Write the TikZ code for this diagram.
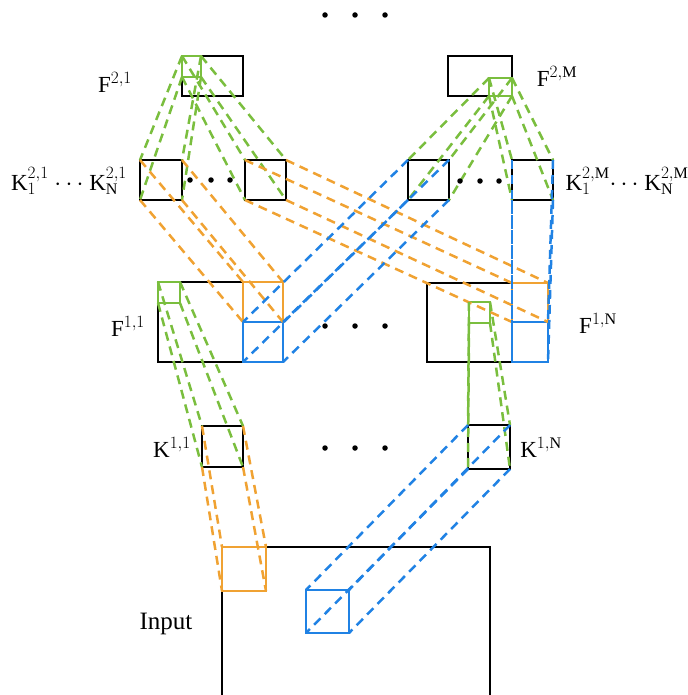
\documentclass[tikz,border=0pt]{standalone}
\usepackage{fontspec}
\setmainfont{Liberation Serif}
\definecolor{cgreen}{RGB}{122,190,62}
\definecolor{corange}{RGB}{240,162,50}
\definecolor{cblue}{RGB}{32,130,228}
\newcommand\frust[3]{\foreach \c in {north west,north east,south west,south east}{\draw[ray,#1] (#2.\c) -- (#3.\c);}}
\begin{document}
\begin{tikzpicture}[x=1pt,y=-1pt,
  box/.style={draw=black,line width=2.8pt,inner sep=0pt,outer sep=0pt,anchor=north west},
  gsq/.style={draw=cgreen,line width=2.6pt,inner sep=0pt,outer sep=0pt,anchor=north west},
  osq/.style={draw=corange,line width=2.6pt,inner sep=0pt,outer sep=0pt,anchor=north west},
  bsq/.style={draw=cblue,line width=2.6pt,inner sep=0pt,outer sep=0pt,anchor=north west},
  ray/.style={dash pattern=on 9pt off 6pt,line width=2.5pt},
  dot/.style={circle,fill=black,inner sep=0pt,minimum size=5.5pt},
  lbl/.style={inner sep=0pt,font=\fontsize{23}{26}\selectfont}
]
\useasboundingbox (0,0) rectangle (687,695);
% black boxes
\node[box,minimum width=61pt,minimum height=40pt] (F21) at (182,56) {};
\node[box,minimum width=64pt,minimum height=40pt] (F2M) at (448,56) {};
\node[box,minimum width=42pt,minimum height=40pt] (K1) at (140,160) {};
\node[box,minimum width=41pt,minimum height=40pt] (K2) at (245,160) {};
\node[box,minimum width=41pt,minimum height=40pt] (K3) at (408,160) {};
\node[box,minimum width=41pt,minimum height=40pt] (K4) at (512,160) {};
\node[box,minimum width=125pt,minimum height=80pt] (F11) at (158,282) {};
\node[box,minimum width=121pt,minimum height=79pt] (F1N) at (427,283) {};
\node[box,minimum width=41pt,minimum height=41pt] (K11) at (202,426) {};
\node[box,minimum width=42pt,minimum height=44pt] (K1N) at (468,425) {};
\node[box,minimum width=268pt,minimum height=170pt] (inp) at (222,547) {};
% coloured squares
\node[gsq,minimum width=19pt,minimum height=21pt] (g21) at (182,56) {};
\node[gsq,minimum width=23pt,minimum height=18pt] (g2M) at (489,78) {};
\node[gsq,minimum width=22pt,minimum height=21pt] (g11) at (158,282) {};
\node[gsq,minimum width=21pt,minimum height=21pt] (g1N) at (469,302) {};
\node[osq,minimum width=40pt,minimum height=40pt] (o11) at (243,282) {};
\node[bsq,minimum width=40pt,minimum height=40pt] (b11) at (243,322) {};
\node[osq,minimum width=36pt,minimum height=39pt] (o1N) at (512,283) {};
\node[bsq,minimum width=36pt,minimum height=40pt] (b1N) at (512,322) {};
\node[osq,minimum width=44pt,minimum height=44pt] (oIn) at (222,547) {};
\node[bsq,minimum width=43pt,minimum height=43pt] (bIn) at (306,590) {};
% rays
\frust{cgreen}{g21}{K1}
\frust{cgreen}{g21}{K2}
\frust{cgreen}{g2M}{K3}
\frust{cgreen}{g2M}{K4}
\frust{corange}{K1}{o11}
\frust{corange}{K2}{o1N}
\frust{cblue}{K3}{b11}
\frust{cblue}{K4}{b1N}
\frust{cgreen}{g11}{K11}
\frust{cgreen}{g1N}{K1N}
\frust{corange}{K11}{oIn}
\frust{cblue}{K1N}{bIn}
% dots
\node[dot] (t1) at (325,15) {};
\node[dot] (t2) at (355,15) {};
\node[dot] (t3) at (385,15) {};
\node[dot] (a1) at (190,180) {};
\node[dot] (a2) at (211,180) {};
\node[dot] (a3) at (230,180) {};
\node[dot] (b1) at (460,181) {};
\node[dot] (b2) at (480,181) {};
\node[dot] (b3) at (499,181) {};
\node[dot] (m1) at (325,326) {};
\node[dot] (m2) at (355,326) {};
\node[dot] (m3) at (385,326) {};
\node[dot] (n1) at (325,448) {};
\node[dot] (n2) at (355,448) {};
\node[dot] (n3) at (385,448) {};
% labels
\node[lbl] (lF21) at (115,82) {F$^{2,1}$};
\node[lbl] (lF2M) at (557,76) {F$^{2,\mathrm{M}}$};
\node[lbl] (lK21) at (69,181) {K$^{2,1}_{1}$ $\cdots$ K$^{2,1}_{\mathrm{N}}$};
\node[lbl] (lK2M) at (627,181) {K$^{2,\mathrm{M}}_{1}$$\cdots$ K$^{2,\mathrm{M}}_{\mathrm{N}}$};
\node[lbl] (lF11) at (128,326) {F$^{1,1}$};
\node[lbl] (lF1N) at (598,323) {F$^{1,\mathrm{N}}$};
\node[lbl] (lK11) at (172,447) {K$^{1,1}$};
\node[lbl] (lK1N) at (541,447) {K$^{1,\mathrm{N}}$};
\node[lbl,font=\fontsize{25}{28}\selectfont] (lin) at (166,624) {Input};
\end{tikzpicture}
\end{document}
